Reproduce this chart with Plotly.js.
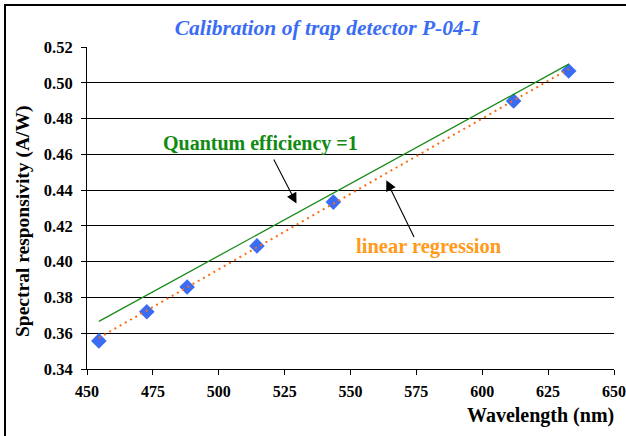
<!DOCTYPE html>
<html>
<head>
<meta charset="utf-8">
<script src="https://cdn.plot.ly/plotly-3.0.1.min.js"></script>
<style>
  html, body { margin: 0; padding: 0; background: #ffffff; }
  #wrap { position: relative; width: 626px; height: 436px; overflow: hidden; }
  #chart { position: absolute; left: 0; top: 0; width: 626px; height: 436px; }
  #frame { position: absolute; left: 4px; top: 4px; width: 640px; height: 460px;
           border-left: 2px solid #000; border-top: 2px solid #000; pointer-events: none; }
</style>
</head>
<body>
<div id="wrap">
  <div id="chart"></div>
  <div id="frame"></div>
</div>
<script>
// Measured calibration points
const wavelength = [454.5, 472.7, 488.0, 514.5, 543.5, 611.9, 632.8];
const responsivity = [0.3557, 0.3720, 0.3858, 0.4088, 0.4333, 0.4898, 0.5066];

// Quantum efficiency = 1 line (end points)
const qeWavelength = [454.5, 632.8];
const qeResponsivity = [0.3666, 0.5104];

// Linear regression line (end points)
const regWavelength = [454.5, 632.8];
const regResponsivity = [0.3574, 0.5077];

// Tick labels
const xTicks = [450, 475, 500, 525, 550, 575, 600, 625, 650];
const yTicks = [0.34, 0.36, 0.38, 0.40, 0.42, 0.44, 0.46, 0.48, 0.50, 0.52];

const serif = "Liberation Serif, Times New Roman, serif";
const H = 322; // plot height in px, for annotation placement

const traces = [
  {
    x: wavelength, y: responsivity, type: 'scatter', mode: 'markers',
    name: 'measured',
    marker: { symbol: 'diamond', size: 12, color: '#3a6cf4', line: { width: 0 } }
  },
  {
    x: qeWavelength, y: qeResponsivity, type: 'scatter', mode: 'lines',
    name: 'Quantum efficiency =1',
    line: { color: '#1a8c1a', width: 1.3 }
  },
  {
    x: regWavelength, y: regResponsivity, type: 'scatter', mode: 'lines',
    name: 'linear regression',
    line: { color: '#ff6a10', width: 2, dash: '2px,4px' }
  }
];

const layout = {
  width: 626, height: 436,
  margin: { l: 87, r: 12, t: 47, b: 67 },
  paper_bgcolor: '#ffffff', plot_bgcolor: '#ffffff',
  showlegend: false,
  font: { family: serif, color: '#000' },
  title: {
    text: '<b><i>Calibration of trap detector P-04-I</i></b>',
    font: { family: serif, size: 21.5, color: '#3a6cf4' },
    x: 327 / 626, xanchor: 'center', xref: 'container',
    y: 1 - 27 / 436, yanchor: 'middle', yref: 'container'
  },
  xaxis: {
    range: [450, 650], tickvals: xTicks, ticktext: xTicks.map(String),
    showgrid: false, zeroline: false,
    showline: true, linecolor: '#000', linewidth: 1,
    ticks: 'outside', ticklen: 5, tickcolor: '#000', tickwidth: 1,
    ticklabelstandoff: 3,
    tickfont: { family: serif, size: 16, color: '#000', weight: 'bold' },
    fixedrange: true
  },
  yaxis: {
    range: [0.34, 0.52], tickvals: yTicks, ticktext: yTicks.map(v => v.toFixed(2)),
    showgrid: true, gridcolor: '#000', gridwidth: 1, zeroline: false,
    showline: true, linecolor: '#000', linewidth: 1,
    ticks: 'outside', ticklen: 5, tickcolor: '#000', tickwidth: 1,
    ticklabelstandoff: 5,
    tickfont: { family: serif, size: 16.5, color: '#000', weight: 'bold' },
    fixedrange: true
  },
  annotations: [
    {
      text: '<b>Spectral responsivity (A/W)</b>', xref: 'paper', yref: 'paper',
      x: (23 - 87) / 527, xanchor: 'center', y: (369 - 222) / H, yanchor: 'middle',
      textangle: -90, showarrow: false,
      font: { family: serif, size: 19.5, color: '#000' }
    },
    {
      text: '<b>Wavelength (nm)</b>', xref: 'paper', yref: 'paper',
      x: 1.003, xanchor: 'right', y: -(416 - 369) / H, yanchor: 'middle', showarrow: false,
      font: { family: serif, size: 20, color: '#000' }
    },
    {
      text: '<b>Quantum efficiency =1</b>', xref: 'x', yref: 'y',
      x: 515.8, y: 0.4663, xanchor: 'center', yanchor: 'middle', showarrow: false,
      font: { family: serif, size: 20, color: '#118a11' }
    },
    {
      text: '', xref: 'x', yref: 'y', axref: 'x', ayref: 'y',
      x: 529.5, y: 0.4325, ax: 520.6, ay: 0.4579,
      showarrow: true, arrowhead: 2, arrowsize: 1.9, arrowwidth: 1.1, arrowcolor: '#000'
    },
    {
      text: '<b>linear regression</b>', xref: 'x', yref: 'y',
      x: 579.9, y: 0.4086, xanchor: 'center', yanchor: 'middle', showarrow: false,
      font: { family: serif, size: 20.5, color: '#ff9a1a' }
    },
    {
      text: '', xref: 'x', yref: 'y', axref: 'x', ayref: 'y',
      x: 563.6, y: 0.4455, ax: 574.4, ay: 0.4129,
      showarrow: true, arrowhead: 2, arrowsize: 1.9, arrowwidth: 1.1, arrowcolor: '#000'
    }
  ]
};

Plotly.newPlot('chart', traces, layout, { staticPlot: true, displayModeBar: false });
</script>
</body>
</html>
